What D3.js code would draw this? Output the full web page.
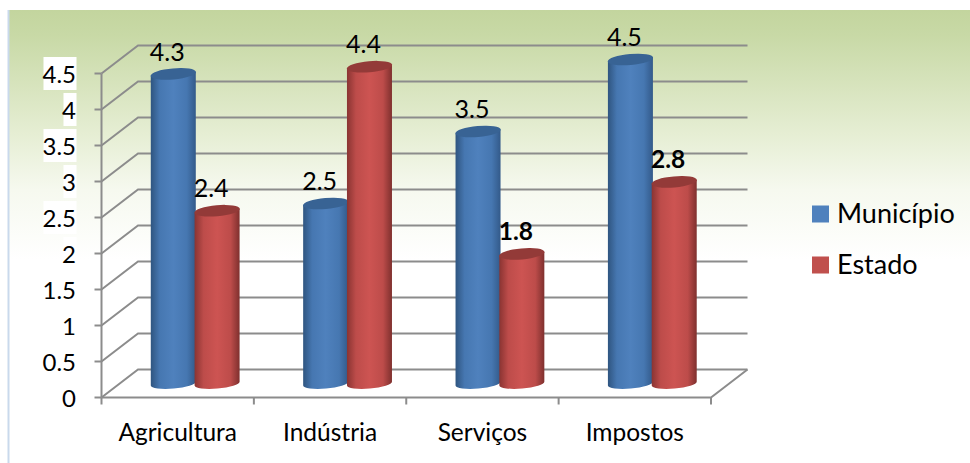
<!DOCTYPE html>
<html><head><meta charset="utf-8">
<script src="https://cdnjs.cloudflare.com/ajax/libs/d3/7.8.5/d3.min.js"></script>
<style>html,body{margin:0;padding:0;background:#fff;overflow:hidden}text{font-family:Lato,"Open Sans",sans-serif;fill:#000}</style>
</head><body><div id="c"></div>
<script>
const categories = ["Agricultura","Indústria","Serviços","Impostos"];
const municipio = [4.3,2.5,3.5,4.5];
const estado = [2.4,4.4,1.8,2.8];
const estadoBold = [false,false,true,true];
const yTicks = [0,0.5,1,1.5,2,2.5,3,3.5,4,4.5];
const seriesNames = ["Município","Estado"];

const W=970,H=463;
const svg=d3.select("#c").append("svg").attr("width",W).attr("height",H);
const defs=svg.append("defs");
const bg=defs.append("linearGradient").attr("id","bg").attr("x1",0).attr("x2",0).attr("y1",0).attr("y2",1);
[[0,"#c3d59e"],[0.1,"#c8d9a6"],[0.5,"#e6eed4"],[0.72,"#f6f9ef"],[1,"#ffffff"]].forEach(s=>bg.append("stop").attr("offset",s[0]).attr("stop-color",s[1]));
function cylGrad(id,edgeL,mid,mid2,edgeR){
  const g=defs.append("linearGradient").attr("id",id).attr("x1",0).attr("x2",1).attr("y1",0).attr("y2",0);
  [[0,edgeL],[0.2,mid2],[0.5,mid],[0.8,mid2],[1,edgeR]].forEach(s=>g.append("stop").attr("offset",s[0]).attr("stop-color",s[1]));
}
cylGrad("gBlue","#2f5580","#4f81bd","#4677b1","#335a8a");
cylGrad("gRed","#8a3432","#cd5452","#bd4c4a","#7f302e");

svg.append("rect").attr("x",9).attr("y",10).attr("width",W-9).attr("height",250).attr("fill","url(#bg)");
svg.append("line").attr("x1",8.5).attr("x2",8.5).attr("y1",10).attr("y2",H).attr("stroke","#c9d9ec").attr("stroke-width",2);

const depthX=36.5, depthY=-28;
const xFront=d3.scaleLinear().domain([0,categories.length]).range([101.5,711]);
const band=d3.scaleBand().domain(categories).range([101.5,711]);
const yFront=d3.scaleLinear().domain([0,4.5]).range([397.5,73.5]);
const yBar=d3.scaleLinear().domain([0,4.5]).range([383.5,59.5]);
const grey="#8c8c8c";
const grid=svg.append("g").attr("fill","none").attr("stroke",grey).attr("stroke-width",2);
yTicks.forEach(t=>{
  const y=yFront(t);
  grid.append("polyline").attr("points",[[xFront(0),y],[xFront(0)+depthX,y+depthY],[xFront(4)+depthX,y+depthY]].join(" "));
  grid.append("line").attr("x1",xFront(0)-7).attr("x2",xFront(0)).attr("y1",y).attr("y2",y);
});
grid.append("line").attr("x1",xFront(0)).attr("x2",xFront(0)).attr("y1",yFront(4.5)).attr("y2",yFront(0));
grid.append("polyline").attr("points",[[xFront(0),yFront(0)],[xFront(4),yFront(0)],[xFront(4)+depthX,yFront(0)+depthY]].join(" "));
d3.range(5).forEach(i=>grid.append("line").attr("x1",xFront(i)).attr("x2",xFront(i)).attr("y1",yFront(0)).attr("y2",yFront(0)+7));

const yl=svg.append("g");
yTicks.forEach(t=>{
  const s=String(t), y=yFront(t);
  const w=s.length>1?33:13;
  if(t>=2) yl.append("rect").attr("x",76.5-w).attr("y",y-16.5).attr("width",w).attr("height",33).attr("fill","#fff");
  yl.append("text").attr("x",76).attr("y",y+1).attr("dy","0.35em").attr("text-anchor","end").attr("font-size",24).text(s);
});
categories.forEach(c=>svg.append("text").attr("x",band(c)+band.bandwidth()/2).attr("y",432).attr("dy","0.35em").attr("text-anchor","middle").attr("font-size",24.5).text(c));

const rx=22.5, ry=5, tilt=-5, off=17.5, spread=21.9;
function cyl(cx,v,fill,top){
  const g=svg.append("g");
  const yt=yBar(v), yb=yBar(0);
  const k=Math.sin(-tilt*Math.PI/180)*rx;
  g.append("path").attr("fill",`url(#${fill})`)
   .attr("d",`M${cx-rx},${yt+k} L${cx-rx},${yb+k} A${rx},${ry} ${tilt} 0 0 ${cx+rx},${yb-k} L${cx+rx},${yt-k} Z`);
  g.append("ellipse").attr("cx",cx).attr("cy",yt).attr("rx",rx+0.3).attr("ry",ry+0.5).attr("fill",top).attr("transform",`rotate(${tilt} ${cx} ${yt})`);
}
categories.forEach((c,i)=>{
  const mid=band(c)+band.bandwidth()/2+off;
  cyl(mid-spread,municipio[i],"gBlue","#386394");
  cyl(mid+spread,estado[i],"gRed","#933a38");
});
categories.forEach((c,i)=>{
  const mid=band(c)+band.bandwidth()/2+off;
  svg.append("text").attr("x",mid-spread-6).attr("y",yBar(municipio[i])-22).attr("dy","0.35em").attr("text-anchor","middle").attr("font-size",25).text(municipio[i]);
  svg.append("text").attr("x",mid+spread-6).attr("y",yBar(estado[i])-22).attr("dy","0.35em").attr("text-anchor","middle").attr("font-size",estadoBold[i]?24.5:25).attr("font-weight",estadoBold[i]?"700":"400").text(estado[i]);
});
const legendColors=["#4f81bd","#c0504d"];
const legY=d3.scalePoint().domain(seriesNames).range([214,265]);
seriesNames.forEach((n,i)=>{
  svg.append("rect").attr("x",812).attr("y",legY(n)-8.5).attr("width",17).attr("height",17).attr("fill",legendColors[i]);
  svg.append("text").attr("x",837).attr("y",legY(n)).attr("dy","0.35em").attr("font-size",27).text(n);
});
</script></body></html>
